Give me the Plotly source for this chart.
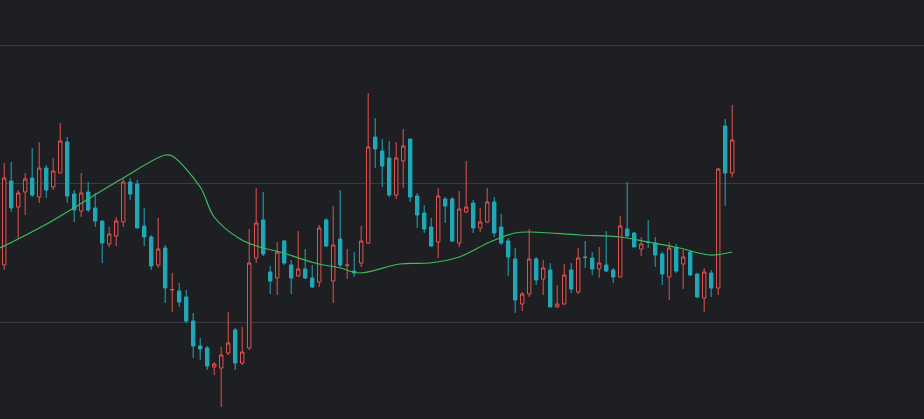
import plotly.graph_objects as go

opens  = [19.5,27.9,25.3,26.8,28.2,26.3,29.2,27.3,28.7,31.8,26.6,24.9,26.8,25.2,23.9,21.6,22.4,23.8,27.8,27.6,
          23.4,22.3,19.5,21.2,17.0,16.9,16.3,13.9,11.4,11.2,9.3,9.2,10.7,13.0,9.7,11.2,20.2,24.0,18.8,18.2,
          21.9,19.5,18.4,19.1,18.2,17.8,24.0,17.9,22.1,19.45,18.9,19.7,21.7,32.3,30.9,30.2,26.5,29.9,32.1,26.4,
          24.7,23.3,21.8,26.1,26.1,21.7,24.8,25.7,23.2,23.8,25.8,23.3,21.9,20.1,15.6,16.6,20.1,18.1,19.0,15.3,
          15.6,19.0,16.8,20.3,20.2,19.1,19.5,19.0,18.3,23.1,22.7,21.1,21.8,21.7,20.6,18.3,21.2,19.6,20.8,18.6,
          16.2,18.7,17.2,33.4,28.7]
highs  = [29.7,29.8,27.0,28.7,31.2,31.8,29.5,30.2,33.7,32.3,27.0,28.7,27.8,26.7,23.9,23.3,24.3,28.1,28.2,28.0,
          25.2,22.5,24.2,21.5,18.7,17.7,17.0,14.7,12.2,11.4,9.8,11.3,14.8,13.2,13.3,23.1,27.2,26.8,19.4,21.8,
          22.0,20.0,22.9,21.1,19.5,23.5,24.2,25.4,27.0,21.1,20.8,23.4,36.7,34.2,32.1,31.9,31.8,33.1,32.1,26.7,
          25.5,24.2,27.2,26.3,26.3,26.9,29.9,26.0,25.2,27.2,26.3,24.6,22.2,21.2,16.8,23.1,20.3,20.0,19.7,17.5,
          19.6,19.7,21.2,21.9,20.8,21.3,22.9,19.2,24.4,27.8,22.8,22.3,24.0,22.3,20.8,21.8,21.6,21.0,21.0,18.7,
          19.2,19.0,29.2,34.1,35.5]
lows   = [19.0,24.8,22.2,24.5,26.3,25.7,26.2,27.0,28.7,25.7,23.8,24.3,24.8,23.3,19.7,21.3,21.4,23.3,26.0,23.2,
          21.4,19.0,19.2,15.7,14.8,15.3,13.7,10.2,10.0,9.0,8.5,5.3,10.5,9.0,9.5,11.0,19.7,20.4,16.6,16.5,
          19.5,16.6,18.3,18.1,17.2,17.3,21.3,15.7,19.3,18.1,18.3,19.3,21.6,29.2,27.3,26.3,26.1,27.2,25.8,23.2,
          22.7,21.3,20.2,23.7,21.8,21.3,24.7,22.7,22.8,23.7,22.3,21.5,18.4,14.7,14.9,16.3,17.5,16.5,15.3,15.2,
          15.5,16.7,16.6,19.2,18.5,18.2,18.8,17.7,18.3,22.3,21.3,20.4,21.2,19.3,17.5,16.0,18.7,17.1,18.4,16.2,
          14.8,16.3,16.5,25.4,28.3]
closes = [28.2,25.2,26.7,28.1,26.5,29.2,27.0,28.9,31.9,26.4,25.0,26.7,25.0,23.9,21.7,22.6,23.9,27.8,26.6,23.2,
          22.3,19.4,21.1,17.2,17.05,15.8,13.9,11.4,11.1,9.4,9.6,10.5,11.7,9.7,10.8,19.7,23.7,20.6,17.9,20.8,
          19.7,18.2,19.1,18.2,17.3,23.2,21.4,21.5,19.5,19.5,18.7,21.9,31.3,31.1,29.4,26.5,30.2,31.4,26.3,24.5,
          23.1,21.4,26.4,25.4,21.9,25.1,25.3,23.2,23.8,25.8,22.7,21.7,20.3,16.0,16.6,20.1,18.0,19.2,15.3,15.6,
          18.5,17.1,20.2,20.25,19.1,19.7,18.9,18.3,23.4,22.4,21.3,21.6,21.75,20.5,18.6,21.2,18.9,20.3,18.5,16.3,
          18.8,17.2,29.1,28.7,32.0]
idx = list(range(len(opens)))

ma_idx = [-0.6,5.8,16.5,23,24,28,30,33.7,36.5,39.4,44.4,48,50.8,56.5,60.8,65,69.4,73,75,82.2,88,92,96.5,100.8,104]
ma_val = [21.2,23.5,28.0,30.5,30.4,27.3,24.3,22.1,21.3,20.8,19.7,19.2,18.7,19.6,19.7,20.3,21.8,22.7,22.8,22.5,22.3,21.8,21.2,20.5,20.8]

BG = "#1e1f22"
fig = go.Figure()
fig.add_trace(go.Candlestick(
    x=idx, open=opens, high=highs, low=lows, close=closes,
    increasing=dict(line=dict(color="#e5524f", width=1), fillcolor=BG),
    decreasing=dict(line=dict(color="#22a7b8", width=1), fillcolor="#22a7b8"),
    whiskerwidth=0, showlegend=False))
fig.add_trace(go.Scatter(x=ma_idx, y=ma_val, mode="lines",
    line=dict(color="#3cbc5c", width=1.2, shape="spline", smoothing=1.0), showlegend=False))

fig.update_layout(
    width=924, height=419, margin=dict(l=0, r=0, t=0, b=0),
    paper_bgcolor=BG, plot_bgcolor=BG,
    xaxis=dict(range=[-0.6, 131.4], showgrid=False, showticklabels=False, zeroline=False,
               rangeslider=dict(visible=False), fixedrange=True),
    yaxis=dict(range=[4.1, 46.0], tick0=13.8, dtick=13.85, showgrid=True, gridcolor="#3a3b3f",
               gridwidth=1, showticklabels=False, zeroline=False),
)
fig.write_html("out.html", config={"displayModeBar": False},
               post_script="document.body.style.margin='0';document.body.style.background='%s';" % BG)
